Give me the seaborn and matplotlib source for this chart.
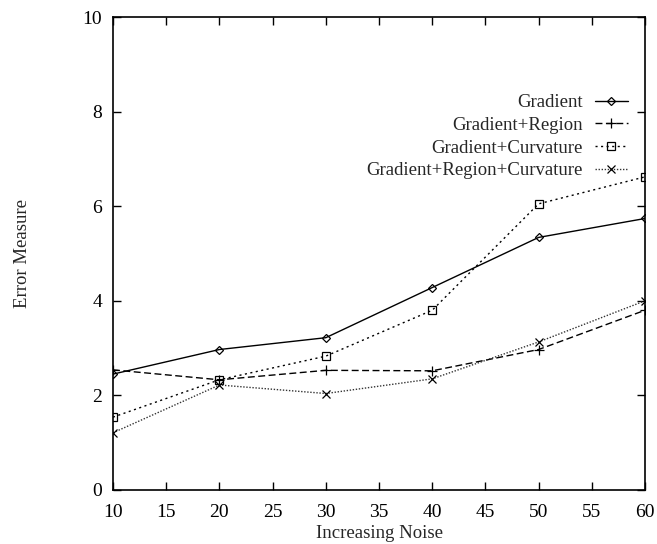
import matplotlib
matplotlib.use("Agg")
import matplotlib.pyplot as plt
import seaborn as sns
import pandas as pd

noise = [10, 20, 30, 40, 50, 60]
gradient = [2.45, 2.97, 3.22, 4.28, 5.34, 5.74]
grad_region = [2.54, 2.33, 2.53, 2.52, 2.97, 3.80]
grad_curv = [1.54, 2.33, 2.83, 3.80, 6.05, 6.62]
grad_region_curv = [1.21, 2.22, 2.04, 2.35, 3.13, 4.00]

labels = ["Gradient", "Gradient+Region", "Gradient+Curvature", "Gradient+Region+Curvature"]
series = [gradient, grad_region, grad_curv, grad_region_curv]
markers = ["D", "+", "s", "x"]
msizes = [4, 7, 6, 6]
dashes = [(None, None), (5, 2.5), (1.5, 2.5), (1, 1.2)]
colors = ["black", "black", "black", "#333333"]

sns.set_theme(style="ticks")
plt.rcParams["font.family"] = ["Liberation Serif", "DejaVu Serif"]

fig = plt.figure(figsize=(6.57, 5.44), dpi=100)
ax = fig.add_axes([113 / 657, 54 / 544, 532 / 657, 473 / 544])

for lab, vals, m, ms, d, c in zip(labels, series, markers, msizes, dashes, colors):
    df = pd.DataFrame({"x": noise, "y": vals})
    sns.lineplot(data=df, x="x", y="y", ax=ax, color=c, marker=m,
                 markersize=ms, markerfacecolor="none", markeredgecolor="black",
                 markeredgewidth=0.9, linewidth=1.0, label=lab)
    line = ax.get_lines()[-1]
    if d[0] is None:
        line.set_linestyle("-")
    else:
        line.set_dashes(d)

ax.set_xlim(10, 60)
ax.set_ylim(0, 10)
ax.set_xticks([10, 15, 20, 25, 30, 35, 40, 45, 50, 55, 60])
ax.set_yticks([0, 2, 4, 6, 8, 10])
ax.tick_params(direction="in", length=6, width=1, top=True, right=True,
               labelsize=14, colors="black")
ax.tick_params(axis="x", pad=10)
ax.tick_params(axis="y", pad=8)
for s in ax.spines.values():
    s.set_visible(True)
    s.set_linewidth(1.2)
    s.set_color("black")

ax.set_xlabel("Increasing Noise", fontsize=13.5)
ax.set_ylabel("Error Measure", fontsize=13.5)
ax.yaxis.set_label_coords(-0.154, 0.5)
ax.xaxis.set_label_coords(0.5, -0.074)

leg = ax.legend(loc="upper right", bbox_to_anchor=(0.968, 0.837), frameon=False,
                markerfirst=False, fontsize=13.5, handlelength=1.76,
                handletextpad=0.64, labelspacing=0.3, borderaxespad=0, borderpad=0)
for t in leg.get_texts():
    t.set_ha("right")
leg._legend_box.align = "right"

fig.savefig("out.png", dpi=100, facecolor="white")
